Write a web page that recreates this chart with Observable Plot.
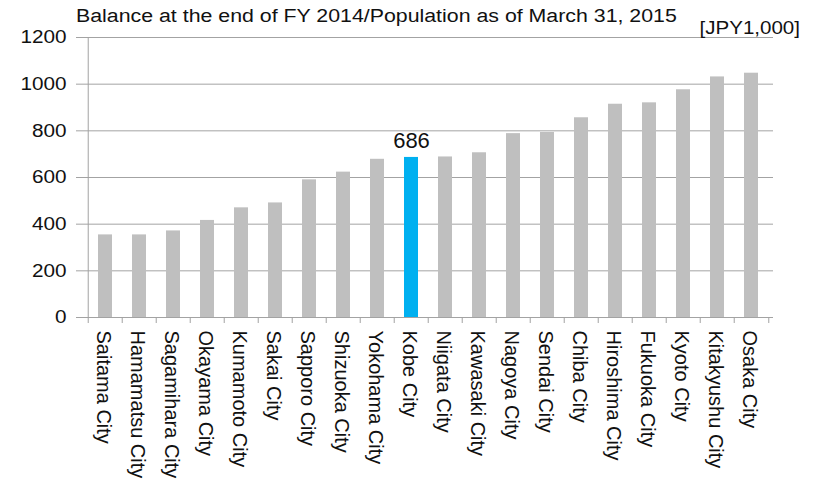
<!DOCTYPE html>
<html>
<head>
<meta charset="utf-8">
<script src="https://cdn.jsdelivr.net/npm/d3@7"></script>
<script src="https://cdn.jsdelivr.net/npm/@observablehq/plot@0.6"></script>
<style>
  html, body { margin: 0; padding: 0; background: #fff; }
  #wrap { position: relative; width: 817px; height: 486px; overflow: hidden; font-family: "Liberation Sans", Arial, sans-serif; }
  #title { position: absolute; left: 76px; top: 7px; font-size: 18px; line-height: 18px; white-space: nowrap; color: #111; transform: scaleX(1.185); transform-origin: left center; }
  #unit { position: absolute; right: 17px; top: 18px; font-size: 19px; line-height: 19px; white-space: nowrap; color: #111; transform: scaleX(1.08); transform-origin: right center; }
  svg text { font-family: "Liberation Sans", Arial, sans-serif; }
</style>
</head>
<body>
<div id="wrap">
  <div id="chart"></div>
  <div id="title"></div>
  <div id="unit"></div>
</div>
<script>
const titleText = "Balance at the end of FY 2014/Population as of March 31, 2015";
const unitText = "[JPY1,000]";
const categories = ["Saitama City", "Hamamatsu City", "Sagamihara City", "Okayama City", "Kumamoto City",
  "Sakai City", "Sapporo City", "Shizuoka City", "Yokohama City", "Kobe City",
  "Niigata City", "Kawasaki City", "Nagoya City", "Sendai City", "Chiba City",
  "Hiroshima City", "Fukuoka City", "Kyoto City", "Kitakyushu City", "Osaka City"];
const values = [354, 354, 371, 416, 470, 491, 590, 623, 678, 686, 688, 706, 788, 793, 856, 914, 920, 976, 1031, 1047];
const highlight = "Kobe City";
const yTicks = [0, 200, 400, 600, 800, 1000, 1200];

const data = categories.map((city, i) => ({city, value: values[i]}));

const W = 817, H = 486, mL = 82, mR = 44, mT = 37, mB = 169;
const step = (W - mL - mR) / categories.length;
const grey = "#bfbfbf", blue = "#00b0f0", lineColor = "#a3a3a3";

const chart = Plot.plot({
  width: W, height: H,
  marginLeft: mL, marginRight: mR, marginTop: mT, marginBottom: mB,
  style: {background: "#fff", color: "#111", fontSize: "18px", fontFamily: "Liberation Sans, Arial, sans-serif", overflow: "visible"},
  x: {domain: categories, paddingInner: 0.6, paddingOuter: 0.3, label: null},
  y: {domain: [0, 1200], label: null},
  marks: [
    Plot.gridY(yTicks, {stroke: lineColor, strokeOpacity: 1, insetLeft: -6}),
    Plot.ruleX([categories[0]], {stroke: lineColor, dx: -step / 2}),
    Plot.barY(data.filter(d => d.city !== highlight), {x: "city", y: "value", fill: grey}),
    Plot.barY(data.filter(d => d.city === highlight), {x: "city", y: "value", fill: blue}),
    Plot.axisY(yTicks, {tickSize: 0, tickPadding: 16, fontSize: 18, fill: "#111", tickFormat: d => String(d)}),
    Plot.axisX(categories, {tickSize: 6, tickFormat: () => "", stroke: lineColor, dx: -step / 2}),
    Plot.axisX([categories[categories.length - 1]], {tickSize: 6, tickFormat: () => "", stroke: lineColor, dx: step / 2}),
    Plot.axisX(categories, {tickSize: 0, tickPadding: 13, tickRotate: 90, fontSize: 20, fill: "#111", dx: -2}),
    Plot.text(data.filter(d => d.city === highlight), {x: "city", y: "value", text: d => String(d.value), lineAnchor: "bottom", dy: -9, fontSize: 22, fill: "#111", ariaLabel: "value label"})
  ]
});

document.getElementById("chart").append(chart);
document.getElementById("title").textContent = titleText;
document.getElementById("unit").textContent = unitText;

// horizontal stretch of horizontal texts to mimic reference rendering
function stretch(sel, k) {
  d3.select(chart).selectAll(sel).each(function() {
    const len = this.getComputedTextLength();
    this.setAttribute("textLength", len * k);
    this.setAttribute("lengthAdjust", "spacingAndGlyphs");
  });
}
stretch('g[aria-label="y-axis tick label"] text', 1.15);
stretch('g[aria-label="value label"] text', 1.15);
</script>
</body>
</html>
